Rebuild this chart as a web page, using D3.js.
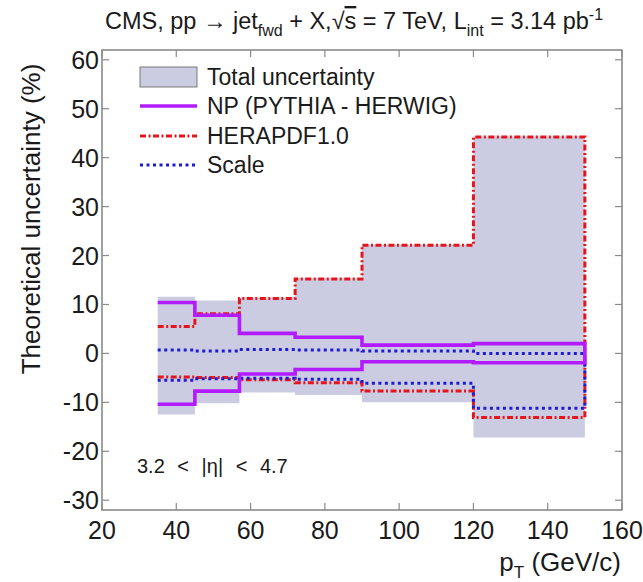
<!DOCTYPE html>
<html>
<head>
<meta charset="utf-8">
<script src="https://cdn.jsdelivr.net/npm/d3@7"></script>
<style>
  html, body { margin: 0; padding: 0; background: #fff; }
  svg text { font-family: "Liberation Sans", Arial, Helvetica, sans-serif; fill: #1a1a1a; }
</style>
</head>
<body>
<svg id="chart" width="643" height="582"></svg>
<script>
// pT bin edges (GeV/c)
const binEdges = [35, 45, 57, 72, 90, 120, 150];

// Relative uncertainties per bin (%)
const totalUp   = [11.6, 10.8, 11.4, 15.4, 22.2, 44.4];
const totalDown = [-12.5, -10.2, -8.0, -8.5, -10.0, -17.2];
const npUp      = [10.4, 7.8, 4.1, 3.3, 1.7, 2.0];
const npDown    = [-10.4, -7.7, -4.2, -3.3, -1.7, -1.9];
const pdfUp     = [5.5, 8.1, 11.2, 15.2, 22.1, 44.2];
const pdfDown   = [-4.8, -4.9, -5.4, -6.0, -7.7, -13.1];
const scaleUp   = [0.7, 0.5, 0.8, 0.7, 0.5, 0.0];
const scaleDown = [-5.5, -5.2, -5.1, -5.3, -6.1, -11.2];

const xTicks = [20, 40, 60, 80, 100, 120, 140, 160];
const yTicks = [-30, -20, -10, 0, 10, 20, 30, 40, 50, 60];

const svg = d3.select("#chart");
const frame = { left: 102, right: 622, top: 50, bottom: 510 };

const x = d3.scaleLinear().domain([20, 160]).range([frame.left, frame.right]);
const y = d3.scaleLinear().domain([-32, 62]).range([frame.bottom, frame.top]);

// points for a step curve: one per bin start plus the closing edge
function stepPoints(vals) {
  const pts = vals.map((v, i) => [binEdges[i], v]);
  pts.push([binEdges[binEdges.length - 1], vals[vals.length - 1]]);
  return pts;
}

// total uncertainty band
const band = binEdges.map((e, i) => {
  const k = Math.min(i, totalUp.length - 1);
  return { x: e, lo: totalDown[k], hi: totalUp[k] };
});
svg.append("path")
  .datum(band)
  .attr("fill", "#cbcbe1")
  .attr("d", d3.area().curve(d3.curveStepAfter)
    .x(d => x(d.x)).y0(d => y(d.lo)).y1(d => y(d.hi)));

const line = d3.line().curve(d3.curveStepAfter).x(d => x(d[0])).y(d => y(d[1]));

// each up/down histogram closes down to zero at the last edge
function drawHist(vals, style) {
  const pts = stepPoints(vals);
  pts.push([binEdges[binEdges.length - 1], 0]);
  const p = svg.append("path")
    .datum(pts)
    .attr("fill", "none")
    .attr("stroke", style.color)
    .attr("stroke-width", style.width)
    .attr("d", line);
  if (style.dash) p.attr("stroke-dasharray", style.dash);
  return p;
}

const styles = {
  np:    { color: "#b31bff", width: 3.6 },
  pdf:   { color: "#e3161e", width: 3, dash: "6,2.5,2,2.5" },
  scale: { color: "#1c1cd6", width: 3, dash: "3,3.5" }
};

drawHist(pdfUp, styles.pdf);
drawHist(pdfDown, styles.pdf);
drawHist(scaleUp, styles.scale);
drawHist(scaleDown, styles.scale);
drawHist(npUp, styles.np);
drawHist(npDown, styles.np);

// frame and ticks
const frameColor = "#8a8a8a";
svg.append("rect")
  .attr("x", frame.left).attr("y", frame.top)
  .attr("width", frame.right - frame.left).attr("height", frame.bottom - frame.top)
  .attr("fill", "none").attr("stroke", frameColor).attr("stroke-width", 1.6);

const tickLen = 7;
const ticks = svg.append("g").attr("stroke", frameColor).attr("stroke-width", 1.2);
xTicks.forEach(t => {
  ticks.append("line").attr("x1", x(t)).attr("x2", x(t))
    .attr("y1", frame.bottom).attr("y2", frame.bottom - tickLen);
  ticks.append("line").attr("x1", x(t)).attr("x2", x(t))
    .attr("y1", frame.top).attr("y2", frame.top + tickLen);
});
yTicks.forEach(t => {
  ticks.append("line").attr("x1", frame.left).attr("x2", frame.left + tickLen)
    .attr("y1", y(t)).attr("y2", y(t));
  ticks.append("line").attr("x1", frame.right).attr("x2", frame.right - tickLen)
    .attr("y1", y(t)).attr("y2", y(t));
});

// tick labels
svg.append("g").selectAll("text").data(xTicks).join("text")
  .attr("x", d => x(d)).attr("y", 539)
  .attr("text-anchor", "middle").attr("font-size", 25)
  .text(d => d);
svg.append("g").selectAll("text").data(yTicks).join("text")
  .attr("x", frame.left - 3).attr("y", d => y(d) + 9)
  .attr("text-anchor", "end").attr("font-size", 25)
  .text(d => d);

// axis titles
svg.append("text")
  .attr("transform", "translate(40,219) rotate(-90)")
  .attr("text-anchor", "middle").attr("font-size", 26)
  .text("Theoretical uncertainty (%)");

const xt = svg.append("text")
  .attr("x", 621).attr("y", 571)
  .attr("text-anchor", "end").attr("font-size", 26);
xt.append("tspan").text("p");
xt.append("tspan").attr("font-size", 17).attr("dy", 7).text("T");
xt.append("tspan").attr("dy", -7).text(" (GeV/c)");

// title
const title = svg.append("text")
  .attr("x", 354).attr("y", 29)
  .attr("text-anchor", "middle").attr("font-size", 23.5);
title.append("tspan").text("CMS, pp \u2192 jet");
title.append("tspan").attr("font-size", 16).attr("dy", 7).text("fwd");
title.append("tspan").attr("dy", -7).text(" + X,\u221A");
title.append("tspan").attr("text-decoration", "overline").text("s");
title.append("tspan").text(" = 7 TeV, L");
title.append("tspan").attr("font-size", 16).attr("dy", 7).text("int");
title.append("tspan").attr("dy", -7).text(" = 3.14 pb");
title.append("tspan").attr("font-size", 16).attr("dy", -9).text("-1");

// legend
const legend = svg.append("g");
const lx0 = 140, lx1 = 197, ltx = 207;
const rows = [
  { label: "Total uncertainty", y: 77, type: "box" },
  { label: "NP (PYTHIA - HERWIG)", y: 106, type: "line", style: styles.np },
  { label: "HERAPDF1.0", y: 136, type: "line", style: styles.pdf },
  { label: "Scale", y: 165, type: "line", style: styles.scale }
];
rows.forEach(r => {
  if (r.type === "box") {
    legend.append("rect").attr("x", lx0).attr("y", r.y - 10)
      .attr("width", lx1 - lx0).attr("height", 20)
      .attr("fill", "#cbcbe1").attr("stroke", "#7a7a7a").attr("stroke-width", 1);
  } else {
    const l = legend.append("line").attr("x1", lx0).attr("x2", lx1)
      .attr("y1", r.y).attr("y2", r.y)
      .attr("stroke", r.style.color).attr("stroke-width", r.style.width);
    if (r.style.dash) l.attr("stroke-dasharray", r.style.dash);
  }
  legend.append("text").attr("x", ltx).attr("y", r.y + 8)
    .attr("font-size", 23).text(r.label);
});

// rapidity range
svg.append("text").attr("x", 137).attr("y", 473)
  .attr("font-size", 20)
  .attr("word-spacing", 7)
  .text("3.2 < |\u03B7| < 4.7");
</script>
</body>
</html>
